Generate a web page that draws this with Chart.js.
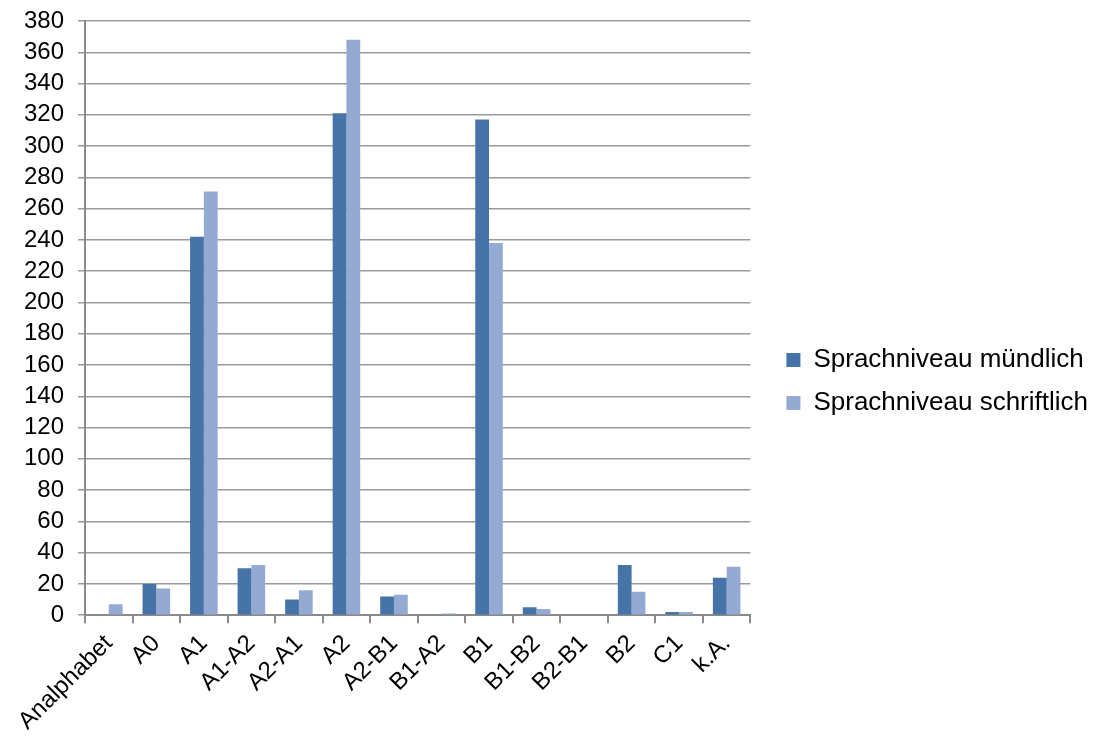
<!DOCTYPE html>
<html>
<head>
<meta charset="utf-8">
<script src="https://cdn.jsdelivr.net/npm/chart.js@4/dist/chart.umd.min.js"></script>
<style>
  html, body { margin: 0; padding: 0; background: #fff; }
  #wrap { width: 1098px; height: 742px; }
</style>
</head>
<body>
<div id="wrap"><canvas id="c" width="1098" height="742"></canvas></div>
<script>
// Sprachniveau je Stufe
const categories = ['Analphabet', 'A0', 'A1', 'A1-A2', 'A2-A1', 'A2', 'A2-B1', 'B1-A2', 'B1', 'B1-B2', 'B2-B1', 'B2', 'C1', 'k.A.'];
const muendlich   = [0, 20, 242, 30, 10, 321, 12, 0, 317, 5, 0, 32, 2, 24];
const schriftlich = [7, 17, 271, 32, 16, 368, 13, 1, 238, 4, 0, 15, 2, 31];
const seriesNames = ['Sprachniveau mündlich', 'Sprachniveau schriftlich'];
const yMax = 380;
const yStep = 20;

const FAMILY = '"Liberation Sans", Arial, sans-serif';
const AXIS_FONT = { family: FAMILY, size: 24 };
const LEGEND_FONT = { family: FAMILY, size: 26 };
const AXIS = '#8a8a8a';

// empty layout box that keeps a gap between the plot and the legend
const legendGap = {
  id: 'legendGap',
  install(chart) {
    Chart.layouts.addBox(chart, {
      position: 'right', weight: 10, fullSize: false, options: {},
      left: 0, top: 0, right: 0, bottom: 0, width: 0, height: 0,
      isHorizontal() { return false; },
      update(maxWidth, maxHeight) { this.width = 19; this.height = maxHeight; },
      draw() {}
    });
  }
};

new Chart(document.getElementById('c'), {
  type: 'bar',
  data: {
    labels: categories,
    datasets: [
      { label: seriesNames[0], data: muendlich, backgroundColor: '#4674A8',
        categoryPercentage: 0.58, barPercentage: 1.0 },
      { label: seriesNames[1], data: schriftlich, backgroundColor: '#95AAD3',
        categoryPercentage: 0.58, barPercentage: 1.0 }
    ]
  },
  plugins: [legendGap],
  options: {
    responsive: false,
    animation: false,
    layout: { padding: { left: 10, top: 21, right: 0, bottom: 0 } },
    plugins: {
      tooltip: { enabled: false },
      legend: {
        position: 'right',
        maxWidth: 360,
        labels: {
          font: LEGEND_FONT,
          color: '#000',
          boxWidth: 14,
          boxHeight: 14,
          padding: 17
        }
      }
    },
    scales: {
      x: {
        grid: { drawOnChartArea: false, drawTicks: true, tickLength: 8, color: AXIS, lineWidth: 2, offset: true },
        border: { color: AXIS, width: 2 },
        ticks: { font: { family: FAMILY, size: 24, lineHeight: 1.0 }, color: '#000',
                 maxRotation: 45, minRotation: 45, padding: 8, autoSkip: false }
      },
      y: {
        min: 0,
        max: yMax,
        grid: { color: '#9a9a9a', lineWidth: 1.5, tickLength: 7 },
        border: { color: AXIS, width: 2 },
        ticks: { font: AXIS_FONT, color: '#000', stepSize: yStep, padding: 14, autoSkip: false },
        afterFit(scale) { scale.paddingTop = 0; }
      }
    }
  }
});
</script>
</body>
</html>
